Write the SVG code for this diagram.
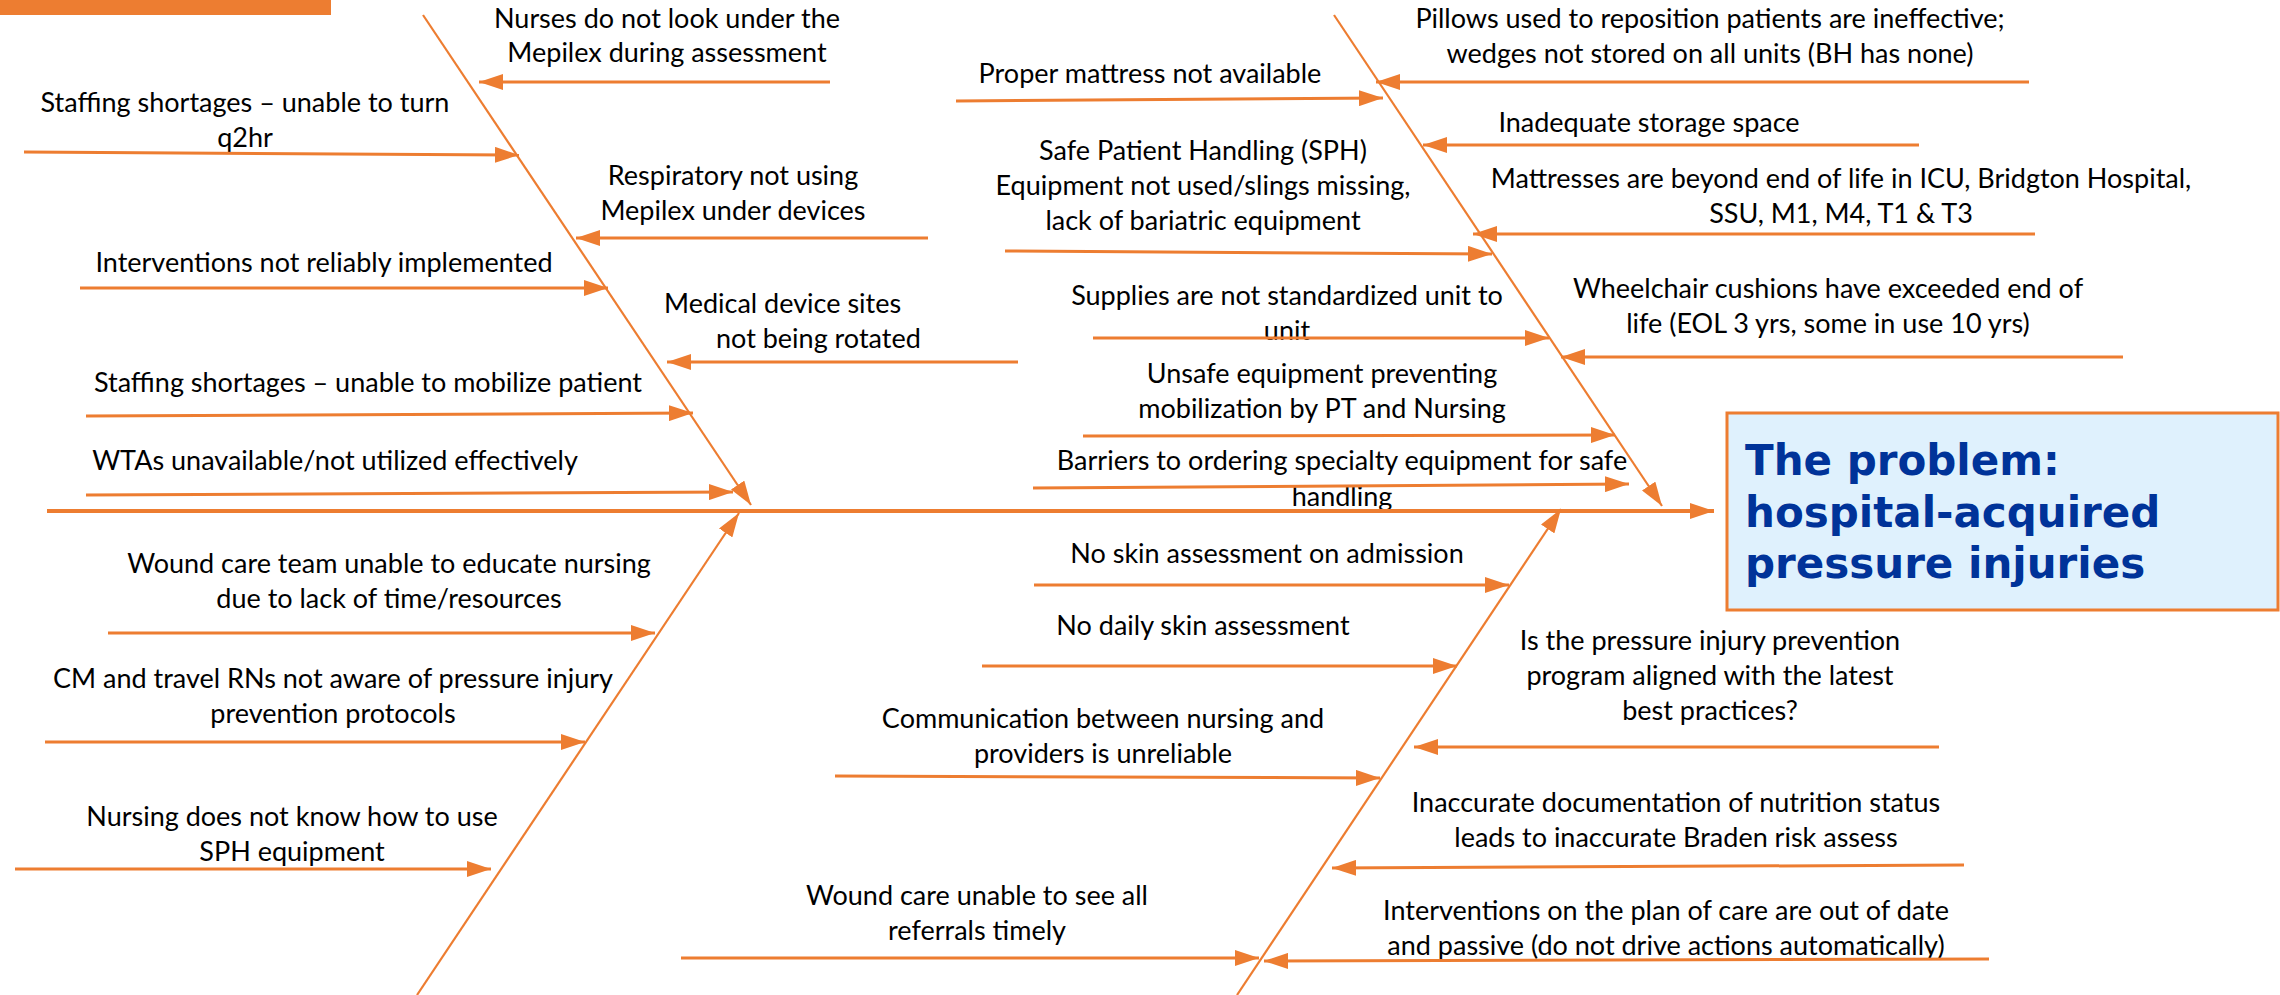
<svg xmlns="http://www.w3.org/2000/svg" width="2280" height="995" viewBox="0 0 2280 995">
  <style>
    .t { font-family: Lato, "Liberation Sans", sans-serif; font-size: 27px; fill: #000000; text-anchor: middle; }
    .ts { text-anchor: start; }
    .arr { stroke: #ED7D31; stroke-width: 3; fill: none; marker-end: url(#head); }
    .bone { stroke: #ED7D31; stroke-width: 2.2; fill: none; marker-end: url(#head); }
    .spine { stroke: #ED7D31; stroke-width: 4; fill: none; marker-end: url(#head); }
    .ptitle { font-family: "DejaVu Sans", Verdana, sans-serif; font-weight: bold; font-size: 42px; fill: #003399; }
  </style>
  <defs>
    <marker id="head" markerUnits="userSpaceOnUse" markerWidth="25" markerHeight="16" refX="24" refY="8" orient="auto">
      <path d="M0,0 L24,8 L0,16 Z" fill="#ED7D31"/>
    </marker>
  </defs>

  <rect x="0" y="0" width="331" height="15" fill="#ED7D31"/>

  <!-- effect box -->
  <g id="problem">
    <rect x="1727" y="413" width="551" height="197" fill="#DFF1FD" stroke="#ED7D31" stroke-width="3"/>
    <text class="ptitle" x="1745" y="475">The problem:</text>
    <text class="ptitle" x="1745" y="527">hospital-acquired</text>
    <text class="ptitle" x="1745" y="578">pressure injuries</text>
  </g>

  <!-- causes, upper left branch -->
  <g id="staff-turn"><text class="t" x="245" y="112">Staffing shortages – unable to turn</text><text class="t" x="245" y="147">q2hr</text></g>
  <g id="interventions"><text class="t" x="324" y="272">Interventions not reliably implemented</text></g>
  <g id="staff-mobilize"><text class="t" x="368" y="392">Staffing shortages – unable to mobilize patient</text></g>
  <g id="wtas"><text class="t" x="335" y="470">WTAs unavailable/not utilized effectively</text></g>
  <g id="mepilex-assess"><text class="t" x="667" y="28">Nurses do not look under the</text><text class="t" x="667" y="62">Mepilex during assessment</text></g>
  <g id="respiratory"><text class="t" x="733" y="185">Respiratory not using</text><text class="t" x="733" y="220">Mepilex under devices</text></g>
  <g id="device-sites"><text class="t ts" x="664" y="313">Medical device sites</text><text class="t ts" x="716" y="348">not being rotated</text></g>

  <!-- causes, lower left branch -->
  <g id="wound-team"><text class="t" x="389" y="573">Wound care team unable to educate nursing</text><text class="t" x="389" y="608">due to lack of time/resources</text></g>
  <g id="travel-rns"><text class="t" x="333" y="688">CM and travel RNs not aware of pressure injury</text><text class="t" x="333" y="723">prevention protocols</text></g>
  <g id="sph-training"><text class="t" x="292" y="826">Nursing does not know how to use</text><text class="t" x="292" y="861">SPH equipment</text></g>

  <!-- causes, upper right branch -->
  <g id="mattress"><text class="t" x="1150" y="83">Proper mattress not available</text></g>
  <g id="sph-equipment"><text class="t" x="1203" y="160">Safe Patient Handling (SPH)</text><text class="t" x="1203" y="195">Equipment not used/slings missing,</text><text class="t" x="1203" y="230">lack of bariatric equipment</text></g>
  <g id="supplies"><text class="t" x="1287" y="305">Supplies are not standardized unit to</text><text class="t" x="1287" y="340">unit</text></g>
  <g id="unsafe-equipment"><text class="t" x="1322" y="383">Unsafe equipment preventing</text><text class="t" x="1322" y="418">mobilization by PT and Nursing</text></g>
  <g id="ordering"><text class="t" x="1342" y="470">Barriers to ordering specialty equipment for safe</text><text class="t" x="1342" y="506">handling</text></g>
  <g id="pillows"><text class="t" x="1710" y="28">Pillows used to reposition patients are ineffective;</text><text class="t" x="1710" y="63">wedges not stored on all units (BH has none)</text></g>
  <g id="storage"><text class="t" x="1649" y="132">Inadequate storage space</text></g>
  <g id="mattress-life"><text class="t" x="1841" y="188">Mattresses are beyond end of life in ICU, Bridgton Hospital,</text><text class="t" x="1841" y="223">SSU, M1, M4, T1 &amp; T3</text></g>
  <g id="wheelchair"><text class="t" x="1828" y="298">Wheelchair cushions have exceeded end of</text><text class="t" x="1828" y="333">life (EOL 3 yrs, some in use 10 yrs)</text></g>

  <!-- causes, lower right branch -->
  <g id="admission"><text class="t" x="1267" y="563">No skin assessment on admission</text></g>
  <g id="daily"><text class="t" x="1203" y="635">No daily skin assessment</text></g>
  <g id="communication"><text class="t" x="1103" y="728">Communication between nursing and</text><text class="t" x="1103" y="763">providers is unreliable</text></g>
  <g id="referrals"><text class="t" x="977" y="905">Wound care unable to see all</text><text class="t" x="977" y="940">referrals timely</text></g>
  <g id="best-practice"><text class="t" x="1710" y="650">Is the pressure injury prevention</text><text class="t" x="1710" y="685">program aligned with the latest</text><text class="t" x="1710" y="720">best practices?</text></g>
  <g id="nutrition"><text class="t" x="1676" y="812">Inaccurate documentation of nutrition status</text><text class="t" x="1676" y="847">leads to inaccurate Braden risk assess</text></g>
  <g id="plan-of-care"><text class="t" x="1666" y="920">Interventions on the plan of care are out of date</text><text class="t" x="1666" y="955">and passive (do not drive actions automatically)</text></g>

  <g id="connectors">
    <!-- main bones -->
    <line class="spine" x1="47" y1="511" x2="1714" y2="511"/>
    <line class="bone" x1="423" y1="15" x2="751" y2="505"/>
    <line class="bone" x1="1334" y1="15" x2="1662" y2="506"/>
    <line class="bone" x1="417" y1="995" x2="739" y2="513"/>
    <line class="bone" x1="1237" y1="995" x2="1561" y2="509"/>

    <!-- upper left -->
    <line class="arr" x1="24" y1="152" x2="519" y2="155"/>
    <line class="arr" x1="80" y1="288" x2="608" y2="288"/>
    <line class="arr" x1="86" y1="416" x2="693" y2="413"/>
    <line class="arr" x1="86" y1="495" x2="733" y2="492"/>
    <line class="arr" x1="830" y1="82" x2="479" y2="82"/>
    <line class="arr" x1="928" y1="238" x2="576" y2="238"/>
    <line class="arr" x1="1018" y1="362" x2="667" y2="362"/>

    <!-- lower left -->
    <line class="arr" x1="108" y1="633" x2="655" y2="633"/>
    <line class="arr" x1="45" y1="742" x2="585" y2="742"/>
    <line class="arr" x1="15" y1="869" x2="491" y2="869"/>

    <!-- upper right -->
    <line class="arr" x1="956" y1="101" x2="1383" y2="98"/>
    <line class="arr" x1="1005" y1="251" x2="1492" y2="254"/>
    <line class="arr" x1="1093" y1="338" x2="1549" y2="338"/>
    <line class="arr" x1="1083" y1="436" x2="1615" y2="435"/>
    <line class="arr" x1="1033" y1="488" x2="1629" y2="484"/>
    <line class="arr" x1="2029" y1="82" x2="1376" y2="82"/>
    <line class="arr" x1="1919" y1="145" x2="1423" y2="145"/>
    <line class="arr" x1="2035" y1="234" x2="1473" y2="234"/>
    <line class="arr" x1="2123" y1="357" x2="1561" y2="357"/>

    <!-- lower right -->
    <line class="arr" x1="1034" y1="585" x2="1509" y2="585"/>
    <line class="arr" x1="982" y1="666" x2="1457" y2="666"/>
    <line class="arr" x1="835" y1="776" x2="1380" y2="778"/>
    <line class="arr" x1="681" y1="958" x2="1259" y2="958"/>
    <line class="arr" x1="1939" y1="747" x2="1414" y2="747"/>
    <line class="arr" x1="1964" y1="865" x2="1332" y2="868"/>
    <line class="arr" x1="1989" y1="959" x2="1264" y2="961"/>
  </g>
</svg>
